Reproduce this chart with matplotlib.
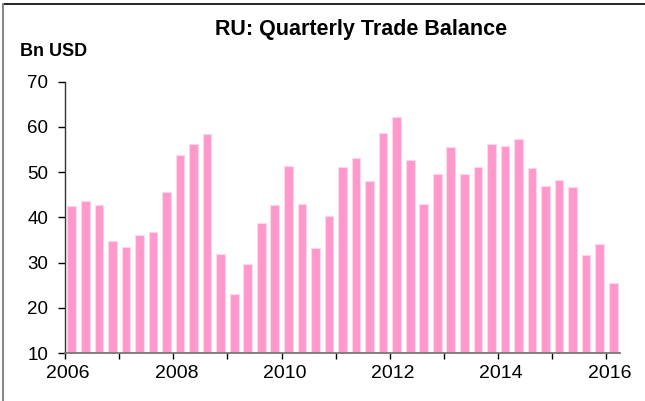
import numpy as np
import matplotlib
matplotlib.use("Agg")
import matplotlib.pyplot as plt
import matplotlib.transforms as mtransforms
from matplotlib.lines import Line2D

plt.rcParams['font.family'] = ['Liberation Sans', 'DejaVu Sans']

# quarterly trade balance, bn USD, 2006Q1 .. 2016Q1
start_year = 2006
values = [42.4, 43.7, 42.7, 34.7, 33.5, 36.1, 36.8, 45.7,
          53.7, 56.3, 58.5, 31.9, 23.1, 29.6, 38.8, 42.7,
          51.4, 43.0, 33.3, 40.3, 51.1, 53.2, 48.0, 58.7,
          62.3, 52.7, 43.0, 49.5, 55.5, 49.5, 51.2, 56.2,
          55.8, 57.3, 50.9, 47.0, 48.2, 46.8, 31.7, 34.0,
          25.4]
year_ticks = list(range(2006, 2017))
year_labels = [str(y) if y % 2 == 0 else '' for y in year_ticks]
y_ticks = [10, 20, 30, 40, 50, 60, 70]

x = start_year + (np.arange(len(values)) + 0.5) / 4

fig = plt.figure(figsize=(6.45, 4.01), dpi=100)
ax = fig.add_axes([65/645, 1 - 353/401, 555/645, (353 - 81.7)/401])

ax.bar(x, np.array(values) - 10, bottom=10, width=0.16,
       color='#ff99cc', edgecolor='#ffd6ea', linewidth=0.8)

ax.set_xlim(2006, 2016.25)
ax.set_ylim(10, 70)
ax.set_yticks(y_ticks)
ax.set_xticks(year_ticks)
ax.set_xticklabels(year_labels)

for s in ['top', 'right']:
    ax.spines[s].set_visible(False)
ax.spines['left'].set_color('#333333')
ax.spines['bottom'].set_color('#777777')
ax.spines['left'].set_linewidth(1.0)
ax.spines['bottom'].set_linewidth(1.3)

ax.tick_params(axis='y', direction='out', length=5, width=1, pad=7,
               labelsize=13.5, colors='black')
ax.tick_params(axis='x', direction='out', length=4, width=1, pad=5,
               labelsize=14, colors='black')

offset = mtransforms.ScaledTranslation(3/100, 0, fig.dpi_scale_trans)
for lbl in ax.get_xticklabels():
    lbl.set_transform(lbl.get_transform() + offset)

fig.text(361/645, 1 - 30/401, 'RU: Quarterly Trade Balance', ha='center',
         va='center', fontsize=15.5, fontweight='bold')
fig.text(20/645, 1 - 52/401, 'Bn USD', ha='left', va='center',
         fontsize=13, fontweight='bold')

# chart frame (top and left edges visible)
fig.add_artist(Line2D([3/645, 1], [1 - 4/401, 1 - 4/401], color='black',
                      linewidth=1.2, transform=fig.transFigure))
fig.add_artist(Line2D([3/645, 3/645], [0, 1 - 4/401], color='#888888',
                      linewidth=1.5, transform=fig.transFigure))

fig.savefig('out.png', dpi=100)
